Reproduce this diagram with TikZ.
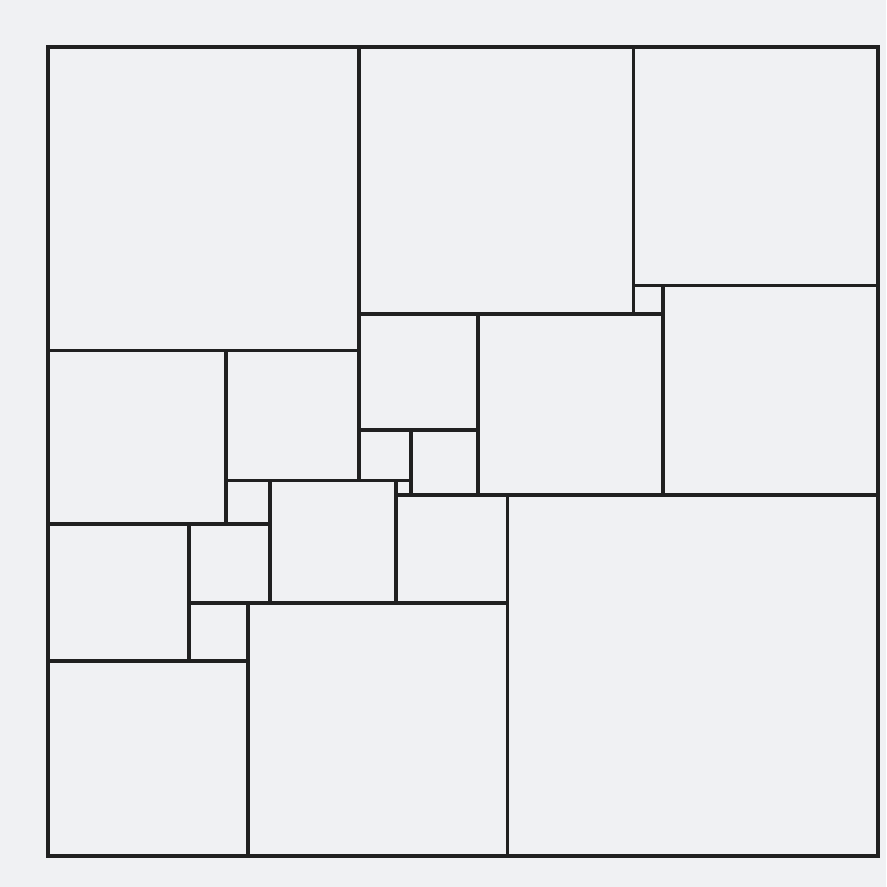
\documentclass[tikz,border=0pt]{standalone}
\usetikzlibrary{positioning}
\definecolor{paper}{RGB}{240,241,243}
\definecolor{edge}{RGB}{32,32,32}

\begin{document}
\begin{tikzpicture}[
    sq/.style={draw=edge, line width=1.05pt},
    frame/.style={draw=edge, line width=1.1pt}
]

% Paper
\fill[paper] (0,0) rectangle (8.86,-8.87);
\useasboundingbox (0,0) rectangle (8.86,-8.87);

\begin{scope}[xshift=0.48cm, yshift=-0.47cm, x=0.07411cm, y=-0.07223cm]

% Top row
\draw[sq] (0,0) rectangle ++(42,42);
\draw[sq] (42,0) rectangle ++(37,37);
\draw[sq] (79,0) rectangle ++(33,33);
\draw[sq] (79,33) rectangle ++(4,4);
\draw[sq] (83,33) rectangle ++(29,29);

% Middle
\draw[sq] (42,37) rectangle ++(16,16);
\draw[sq] (58,37) rectangle ++(25,25);
\draw[sq] (42,53) rectangle ++(7,7);
\draw[sq] (49,53) rectangle ++(9,9);
\draw[sq] (47,60) rectangle ++(2,2);
\draw[sq] (0,42) rectangle ++(24,24);
\draw[sq] (24,42) rectangle ++(18,18);
\draw[sq] (24,60) rectangle ++(6,6);
\draw[sq] (30,60) rectangle ++(17,17);
\draw[sq] (47,62) rectangle ++(15,15);

% Bottom
\draw[sq] (0,66) rectangle ++(19,19);
\draw[sq] (19,66) rectangle ++(11,11);
\draw[sq] (19,77) rectangle ++(8,8);
\draw[sq] (0,85) rectangle ++(27,27);
\draw[sq] (27,77) rectangle ++(35,35);
\draw[sq] (62,62) rectangle ++(50,50);

% Outer frame
\draw[frame] (0,0) rectangle (112,112);

\end{scope}
\end{tikzpicture}
\end{document}
